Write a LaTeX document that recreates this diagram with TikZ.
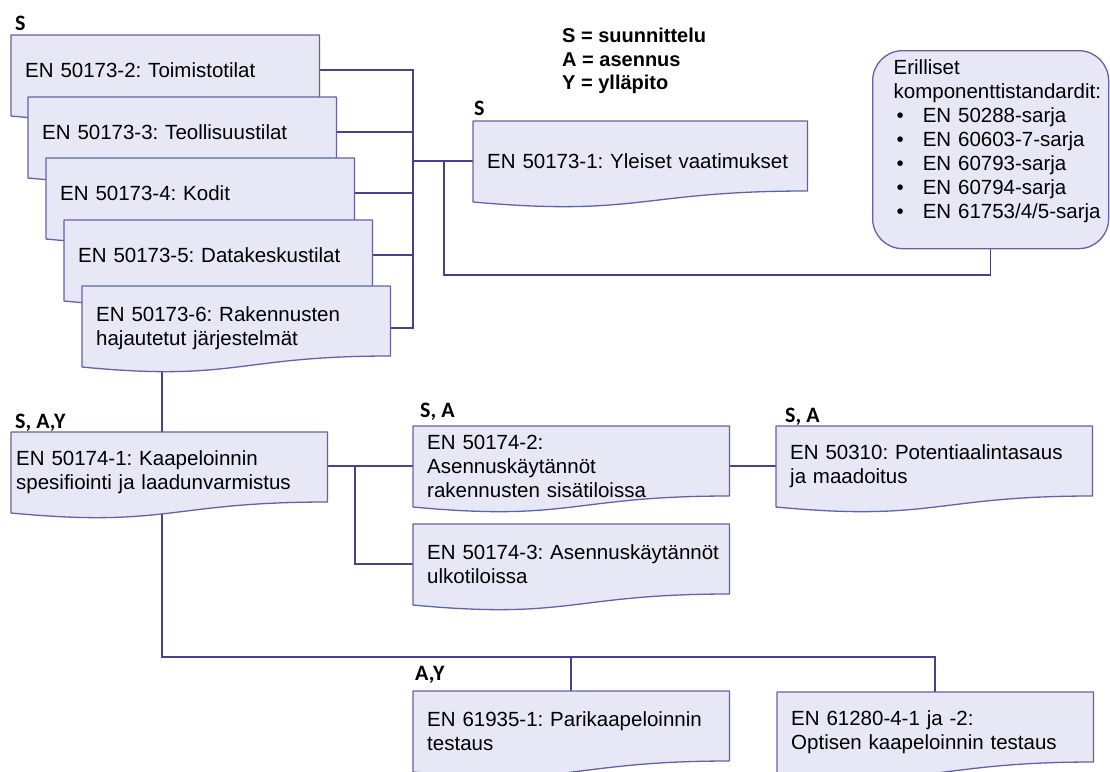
\documentclass[tikz,border=0pt]{standalone}
\usepackage{fontspec}
\setmainfont{Liberation Sans}
\newfontfamily\calibri{Carlito}
\usepackage{tikz}
\usetikzlibrary{calc,backgrounds}
\definecolor{docfill}{RGB}{231,231,245}
\definecolor{docline}{RGB}{100,98,162}
\definecolor{linkline}{RGB}{72,66,142}
\newcommand{\docpath}[1]{%
  \path[docshape] (#1.north west) -- (#1.north east) -- ($(#1.north east)+(0,70)$)
    .. controls ($(#1.north)+(0,70)$) and ($(#1.north)+(0,96)$) .. ($(#1.north west)+(0,81)$) -- cycle;}
\newcommand{\stditem}[1]{\mbox{\hspace*{3pt}\textbullet\hspace{19pt}#1}}
\frenchspacing

\begin{document}
\begin{tikzpicture}[x=1pt,y=-1pt,
  doc/.style={anchor=north west,inner xsep=14pt,inner ysep=3pt,align=left,text width=288pt,
    minimum height=80pt,font=\fontsize{20.5}{24}\selectfont},
  stack/.style={doc,text width=280pt,minimum height=70pt},
  docshape/.style={draw=docline,fill=docfill,line width=1.3pt,line join=round},
  link/.style={draw=linkline,line width=1.6pt},
  tag/.style={anchor=base west,inner sep=0pt,font=\calibri\bfseries\fontsize{22}{26}\selectfont}]
\useasboundingbox (0,0) rectangle (1110,771);

\node[stack] (s2) at (11,35) {EN 50173-2: Toimistotilat};
\node[stack] (s3) at (28,97) {EN 50173-3: Teollisuustilat};
\node[stack] (s4) at (46,158) {EN 50173-4: Kodit};
\node[stack] (s5) at (64,220) {EN 50173-5: Datakeskustilat};
\node[stack,minimum height=84pt] (s6) at (82,286) {EN 50173-6: Rakennusten\\hajautetut järjestelmät};
\node[doc,text width=306pt] (s1) at (473,121) {EN 50173-1: Yleiset vaatimukset};
\node[doc,inner xsep=5pt,text width=306pt] (k1) at (11,432) {EN 50174-1: Kaapeloinnin\\spesifiointi ja laadunvarmistus};
\node[doc] (k2) at (413,426) {EN 50174-2:\\Asennuskäytännöt\\rakennusten sisätiloissa};
\node[doc] (k3) at (413,524) {\mbox{EN 50174-3: Asennuskäytännöt}\\ulkotiloissa};
\node[doc] (p) at (776,426) {EN 50310: Potentiaalintasaus\\ja maadoitus};
\node[doc] (r1) at (413,691) {EN 61935-1: Parikaapeloinnin\\testaus};
\node[doc] (r2) at (777,692) {EN 61280-4-1 ja -2:\\Optisen kaapeloinnin testaus};

\node[draw=docline,fill=docfill,line width=1.3pt,rounded corners=30pt,anchor=north west,
  minimum width=236pt,minimum height=198pt,inner xsep=21pt,text width=194pt,align=left,
  font=\fontsize{20.5}{24}\selectfont] (komp) at (872,50)
  {Erilliset\\\mbox{komponenttistandardit:}\\\stditem{EN 50288-sarja}\\\stditem{EN 60603-7-sarja}\\
   \stditem{EN 60793-sarja}\\\stditem{EN 60794-sarja}\\\stditem{EN 61753/4/5-sarja}\\[-2pt]\mbox{}};

\node[anchor=north west,inner sep=0pt,align=left,font=\bfseries\fontsize{20}{23.5}\selectfont] (key) at (562,28)
  {S = suunnittelu\\A = asennus\\Y = ylläpito};

\node[tag] (tS) at (15,30) {S};
\node[tag] (tS1) at (474,115) {S};
\node[tag] (tSAY) at (15,428) {S, A,Y};
\node[tag] (tSA2) at (420,417) {S, A};
\node[tag] (tSA3) at (785,422) {S, A};
\node[tag] (tAY) at (415,680) {A,Y};

\coordinate (bus) at (413,0);
\coordinate (fork) at (444,275);
\coordinate (drop) at (162,0);
\coordinate (split) at (355,0);
\coordinate (rail) at (0,657);

\begin{pgfonlayer}{background}
\draw[link] (s2.east) -- (s2.east -| bus) -- (s6.east -| bus) -- (s6.east);
\foreach \n in {s3,s4,s5} \draw[link] (\n.east) -- (\n.east -| bus);
\draw[link] (s1.west) -- (s1.west -| bus);
\draw[link] (s1.west -| fork) -- (fork) -| (komp.south);
\draw[link] (s6.center -| drop) -- (k1.north -| drop);
\draw[link] (k1.center -| drop) -- (rail -| drop) -| (r2.north);
\draw[link] (rail -| r1.north) -- (r1.north);
\draw[link] (k2.west) -- (k2.west -| k1.east);
\draw[link] (k2.west -| split) |- (k3.west);
\draw[link] (k2.east) -- (p.west);
\foreach \n in {s2,s3,s4,s5,s6,s1,k1,k2,k3,p,r1,r2} \docpath{\n};
\end{pgfonlayer}
\end{tikzpicture}
\end{document}
